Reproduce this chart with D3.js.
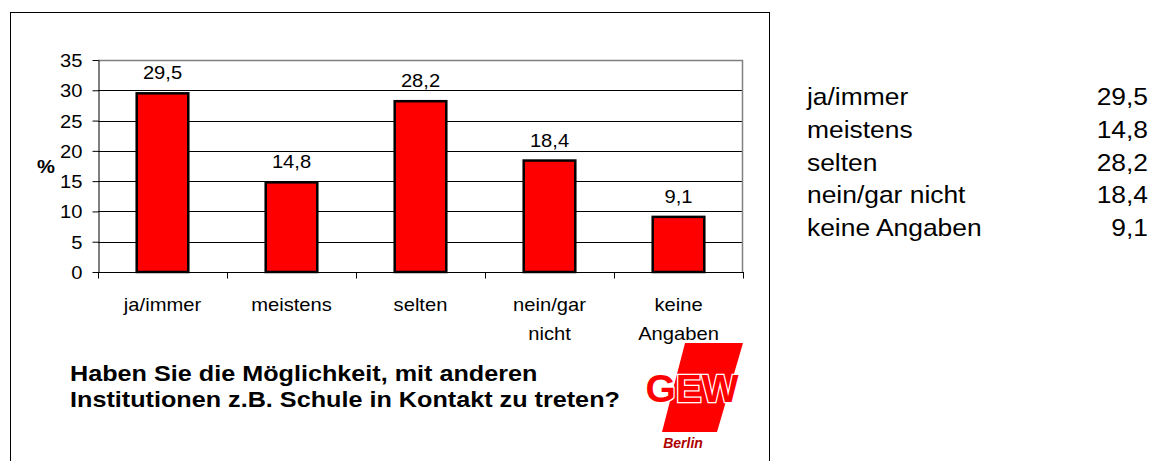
<!DOCTYPE html>
<html>
<head>
<meta charset="utf-8">
<script src="https://cdn.jsdelivr.net/npm/d3@7"></script>
<style>
  body { margin: 0; background: #fff; }
  svg { display: block; font-family: "Liberation Sans", Arial, sans-serif; }
</style>
</head>
<body>
<div id="chart"></div>
<script>
// data
const categories = ["ja/immer", "meistens", "selten", "nein/gar nicht", "keine Angaben"];
const axisLines = [["ja/immer"], ["meistens"], ["selten"], ["nein/gar", "nicht"], ["keine", "Angaben"]];
const values = [29.5, 14.8, 28.2, 18.4, 9.1];
const yTicks = [0, 5, 10, 15, 20, 25, 30, 35];
const titleLines = ["Haben Sie die Möglichkeit, mit anderen", "Institutionen z.B. Schule in Kontakt zu treten?"];

const W = 1154, H = 461;
const SX = 1.12; // picture is a bit stretched sideways
const de = d3.formatLocale({decimal: ",", thousands: ".", grouping: [3], currency: ["", " €"]});
const fmt = de.format(".1f");

const svg = d3.select("#chart").append("svg")
  .attr("width", W).attr("height", H);

// outer frame of the chart object
svg.append("rect")
  .attr("x", 10.5).attr("y", 12.5)
  .attr("width", 759).attr("height", 470)
  .attr("fill", "none").attr("stroke", "#000");

const plot = {left: 98, right: 743, top: 60, bottom: 272};

var x = d3.scaleBand()
  .domain(categories)
  .range([plot.left, plot.right]);

var y = d3.scaleLinear()
  .domain([0, 35])
  .range([plot.bottom, plot.top]);

// grid lines
svg.append("g")
  .selectAll("line")
  .data(yTicks.filter(d => d > 0 && d < 35))
  .join("line")
    .attr("x1", plot.left).attr("x2", plot.right)
    .attr("y1", d => Math.round(y(d)) + 0.5).attr("y2", d => Math.round(y(d)) + 0.5)
    .attr("stroke", "#000");

// grey plot area border (top, right)
svg.append("path")
  .attr("d", `M${plot.left},${plot.top + 0.5}H${plot.right - 0.5}V${plot.bottom}`)
  .attr("fill", "none").attr("stroke", "#808080").attr("stroke-width", 1.5);

// y axis
var yAxis = svg.append("g")
  .attr("transform", `translate(${plot.left + 0.5},0)`)
  .call(d3.axisLeft(y).tickValues(yTicks).tickSize(6).tickSizeOuter(0).tickFormat(d3.format("d")));
yAxis.select(".domain").attr("stroke", "#000");
yAxis.selectAll(".tick line").attr("stroke", "#000");
yAxis.selectAll("text")
  .attr("x", -16 / SX)
  .attr("dy", "0.36em")
  .attr("transform", `scale(${SX},1)`)
  .style("font-size", "18px")
  .style("font-family", "Liberation Sans, Arial, sans-serif")
  .attr("fill", "#000");

// x axis with ticks between categories
var xAxis = svg.append("g")
  .attr("transform", `translate(0,${plot.bottom + 0.5})`);
xAxis.append("line")
  .attr("x1", plot.left).attr("x2", plot.right + 1)
  .attr("stroke", "#000");
xAxis.selectAll(".sep")
  .data(categories.concat(["end"]))
  .join("line")
    .attr("class", "sep")
    .attr("x1", (d, i) => i < categories.length ? Math.round(x(d)) + 0.5 : plot.right + 0.5)
    .attr("x2", (d, i) => i < categories.length ? Math.round(x(d)) + 0.5 : plot.right + 0.5)
    .attr("y1", 0).attr("y2", 6)
    .attr("stroke", "#000");

xAxis.selectAll(".lab")
  .data(categories)
  .join("text")
    .attr("class", "lab")
    .attr("transform", d => `translate(${x(d) + x.bandwidth() / 2},0) scale(${SX},1)`)
    .attr("text-anchor", "middle")
    .style("font-size", "18px")
    .each(function(d, i) {
      d3.select(this).selectAll("tspan")
        .data(axisLines[i])
        .join("tspan")
          .attr("x", 0)
          .attr("y", (t, j) => 38.5 + j * 29)
          .text(t => t);
    });

// bars
const bw = x.bandwidth() * 0.4;
svg.selectAll(".bar")
  .data(values)
  .join("rect")
    .attr("class", "bar")
    .attr("x", (d, i) => x(categories[i]) + (x.bandwidth() - bw) / 2)
    .attr("y", d => y(d))
    .attr("width", bw)
    .attr("height", d => y(0) - y(d))
    .attr("fill", "#ff0000")
    .attr("stroke", "#000")
    .attr("stroke-width", 2.5);

// value labels
svg.selectAll(".val")
  .data(values)
  .join("text")
    .attr("class", "val")
    .attr("transform", (d, i) => `translate(${x(categories[i]) + x.bandwidth() / 2},${y(d) - 14}) scale(${SX},1)`)
    .attr("text-anchor", "middle")
    .style("font-size", "18px")
    .text(d => fmt(d));

// y axis title
svg.append("text")
  .attr("transform", `translate(37,173) scale(${SX},1)`)
  .style("font-size", "18px")
  .style("font-weight", "bold")
  .text("%");

// question
svg.append("g").selectAll("text")
  .data(titleLines)
  .join("text")
    .attr("transform", (d, i) => `translate(70,${381 + i * 26}) scale(${SX},1)`)
    .style("font-size", "22.5px")
    .style("font-weight", "bold")
    .text(d => d);

// GEW Berlin logo (rough)
const logo = svg.append("g");
logo.append("polygon")
  .attr("points", "685,343 743,343 717,432 662,432")
  .attr("fill", "#ff0000");
logo.append("text")
  .attr("x", 692).attr("y", 402)
  .attr("text-anchor", "middle")
  .style("font-size", "39px")
  .style("font-weight", "bold")
  .attr("fill", "#ff0000")
  .attr("stroke", "#fff")
  .attr("stroke-width", 2.5)
  .attr("paint-order", "stroke")
  .text("GEW");
logo.append("text")
  .attr("x", 683).attr("y", 448)
  .attr("text-anchor", "middle")
  .style("font-size", "14px")
  .style("font-weight", "bold")
  .style("font-style", "italic")
  .attr("fill", "#b00000")
  .text("Berlin");

// table on the right
const TX = 1.1;
const table = svg.append("g");
table.selectAll(".tname")
  .data(categories)
  .join("text")
    .attr("class", "tname")
    .attr("transform", (d, i) => `translate(807,${105 + i * 32.75}) scale(${TX},1)`)
    .style("font-size", "24px")
    .text(d => d);
table.selectAll(".tval")
  .data(values)
  .join("text")
    .attr("class", "tval")
    .attr("transform", (d, i) => `translate(1148,${105 + i * 32.75}) scale(${TX},1)`)
    .attr("text-anchor", "end")
    .style("font-size", "24px")
    .text(d => fmt(d));
</script>
</body>
</html>
